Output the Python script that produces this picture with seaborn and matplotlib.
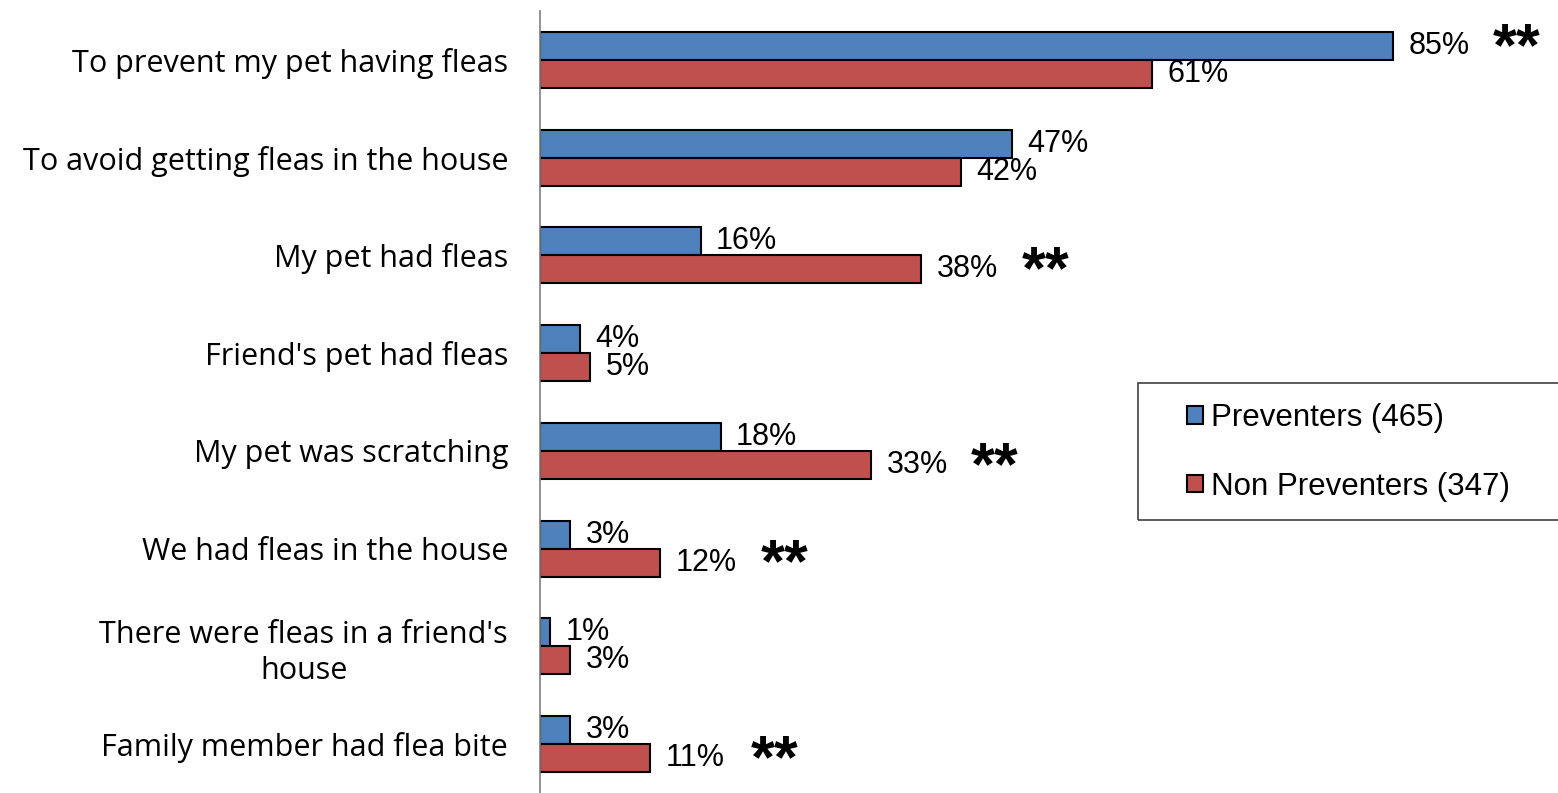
import numpy as np
import pandas as pd
import matplotlib
matplotlib.use("Agg")
import matplotlib.pyplot as plt
from matplotlib.patches import Rectangle
import seaborn as sns

# Reasons for using flea treatment, % of respondents in each group
reasons = [
    "To prevent my pet having fleas",
    "To avoid getting fleas in the house",
    "My pet had fleas",
    "Friend's pet had fleas",
    "My pet was scratching",
    "We had fleas in the house",
    "There were fleas in a friend's\nhouse",
    "Family member had flea bite",
]
preventers = [85, 47, 16, 4, 18, 3, 1, 3]
non_preventers = [61, 42, 38, 5, 33, 12, 3, 11]
groups = ["Preventers (465)", "Non Preventers (347)"]
# group flagged as significantly higher for each reason (None = no flag)
significant = [groups[0], None, groups[1], None, groups[1], groups[1], None, groups[1]]

colors = ["#4F81BD", "#C0504D"]

df = pd.DataFrame({
    "reason": reasons * 2,
    "pct": preventers + non_preventers,
    "group": [groups[0]] * len(reasons) + [groups[1]] * len(reasons),
})

sns.set_style("white")
plt.rcParams["font.family"] = ["Liberation Sans", "DejaVu Sans"]
plt.rcParams["text.color"] = "black"
plt.rcParams["ytick.color"] = "black"
plt.rcParams["ytick.labelcolor"] = "black"

W, H = 1558, 793
fig = plt.figure(figsize=(W / 100, H / 100), dpi=100)
ax = fig.add_axes([540 / W, 0.0, (1543.5 - 540) / W, (H - 11) / H])

sns.barplot(
    data=df, x="pct", y="reason", hue="group", orient="h",
    palette=colors, saturation=1, width=0.575,
    edgecolor="black", linewidth=1.5, ax=ax, legend=True,
)

ax.set_xlim(0, 100)
ax.set_ylim(len(reasons) - 0.5, -0.5)
ax.set_xlabel("")
ax.set_ylabel("")
ax.set_xticks([])

# category labels, with tick marks between categories
ax.set_yticks(range(len(reasons)))
ax.set_yticklabels(reasons, fontfamily="Open Sans", fontsize=22,
                   multialignment="center", linespacing=1.25, color="black")
ax.tick_params(axis="y", which="major", length=0, pad=23)
ax.set_yticks(np.arange(-0.5, len(reasons), 1.0), minor=True)
ax.tick_params(axis="y", which="minor", length=5, width=1.2,
               color="#7f7f7f", direction="out")

for side in ["top", "right", "bottom"]:
    ax.spines[side].set_visible(False)
ax.spines["left"].set_color("#7f7f7f")
ax.spines["left"].set_linewidth(1.2)

# value labels
for cont in ax.containers:
    ax.bar_label(cont, labels=[f"{int(round(b.get_width()))}%" for b in cont],
                 padding=11, fontsize=22, color="black")

# significance markers
for i, g in enumerate(significant):
    if g is None:
        continue
    bar = ax.containers[groups.index(g)][i]
    ax.annotate("**", xy=(bar.get_width(), bar.get_y() + bar.get_height() / 2),
                xytext=(100, -19), textcoords="offset pixels",
                ha="left", va="baseline", fontsize=44, fontweight="bold",
                color="black")

# legend
ax.legend_.remove()
handles = [Rectangle((0, 0), 1, 1, facecolor=c, edgecolor="black", linewidth=1.5)
           for c in colors]
fig.legend(handles, groups, loc="center left",
           bbox_to_anchor=(1187 / W, 1 - 452.5 / H), bbox_transform=fig.transFigure,
           frameon=False, fontsize=22.5, handlelength=0.5, handleheight=0.5,
           handletextpad=0.26, labelspacing=1.22, borderpad=0, borderaxespad=0,
           labelcolor="black")
fig.patches.append(Rectangle((1138 / W, 1 - 520 / H), 0.3, 137 / H,
                             transform=fig.transFigure, fill=False,
                             edgecolor="#404040", linewidth=1.2))

fig.savefig("out.png", dpi=100, facecolor="white")
